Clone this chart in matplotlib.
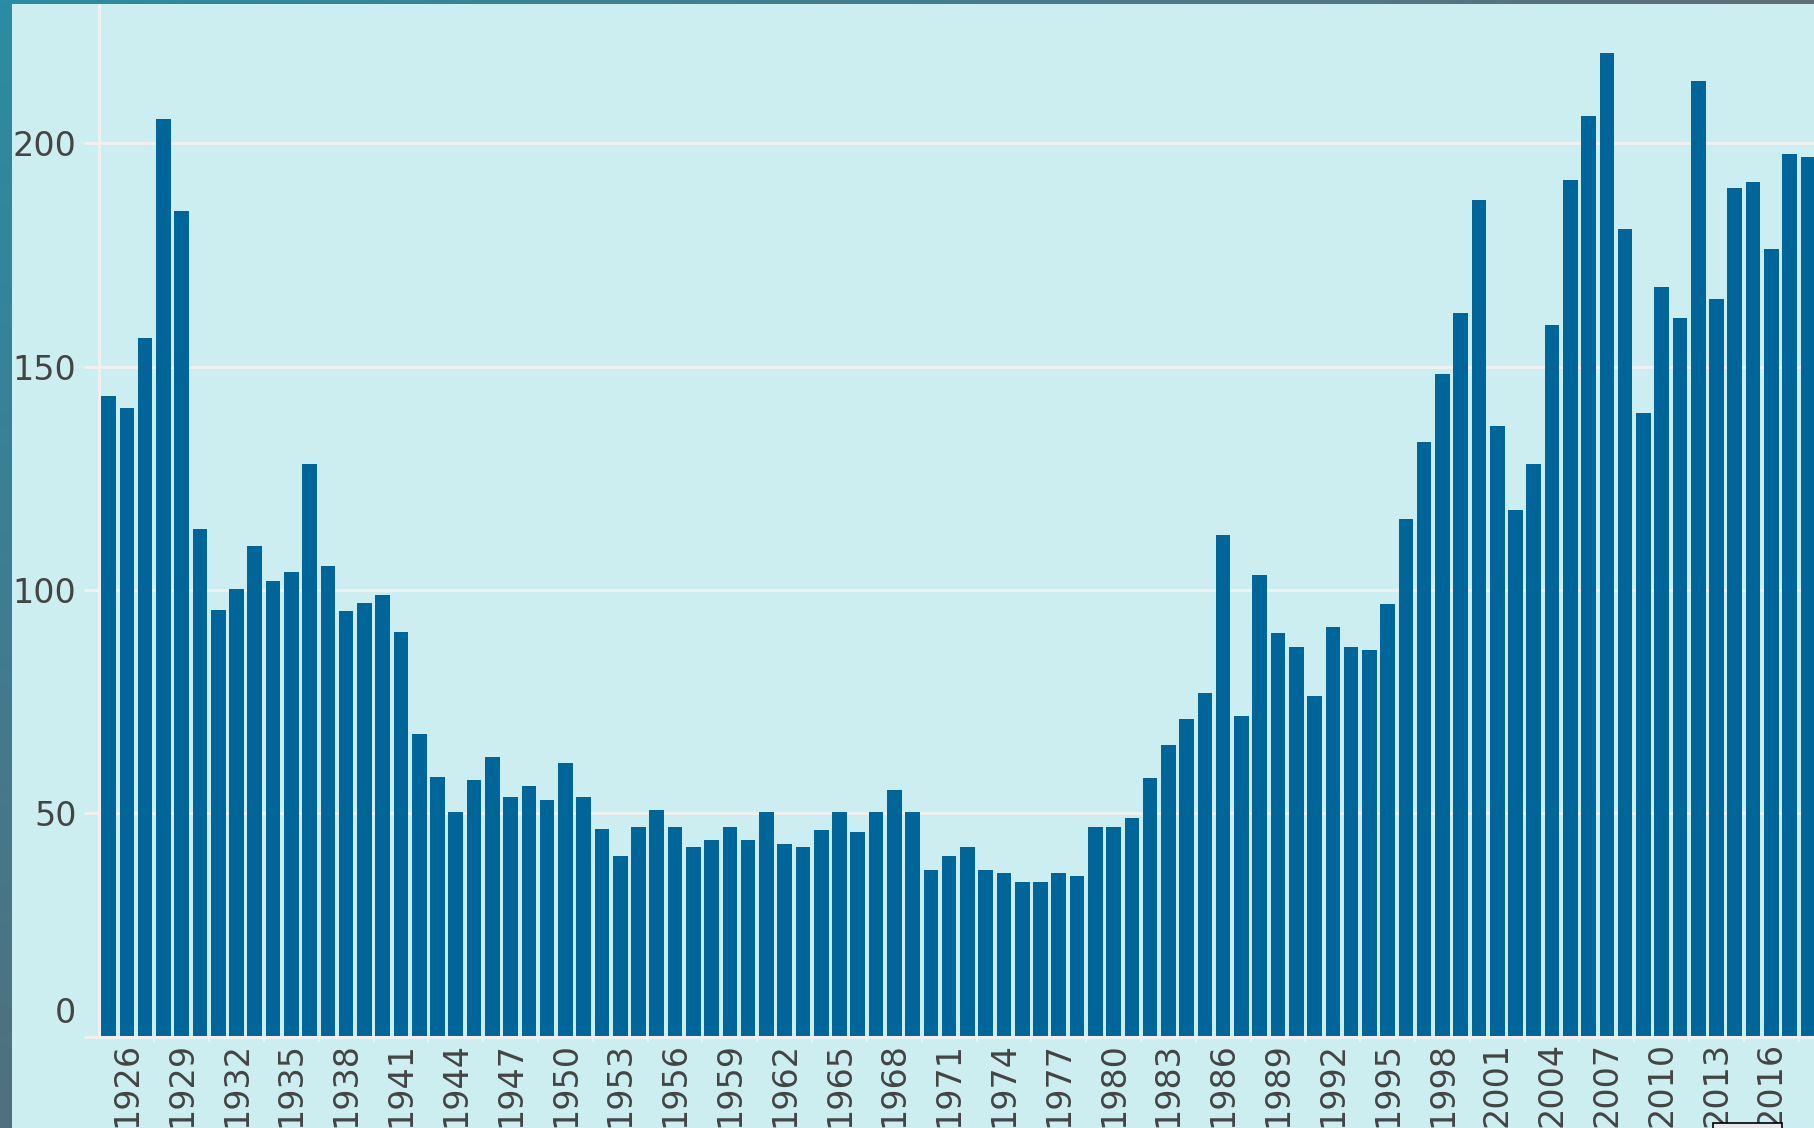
import matplotlib
matplotlib.use("Agg")
import matplotlib.pyplot as plt
import numpy as np
from matplotlib.colors import LinearSegmentedColormap
from matplotlib.patches import Rectangle

years = list(range(1925, 2019))
values = [143.5, 140.8, 156.4, 205.4, 184.9, 113.7, 95.6, 100.3, 109.9, 102.1,
          104.1, 128.1, 105.4, 95.2, 97.0, 98.9, 90.5, 67.7, 58.1, 50.2,
          57.4, 62.5, 53.6, 56.0, 52.9, 61.2, 53.6, 46.4, 40.5, 47.0,
          50.8, 47.0, 42.5, 43.9, 47.0, 43.9, 50.2, 43.2, 42.5, 46.3,
          50.2, 45.7, 50.2, 55.3, 50.2, 37.4, 40.5, 42.5, 37.4, 36.7,
          34.7, 34.7, 36.7, 36.0, 47.0, 47.0, 49.0, 58.0, 65.2, 71.1,
          76.9, 112.4, 71.7, 103.4, 90.4, 87.3, 76.2, 91.8, 87.3, 86.6,
          96.9, 115.8, 133.0, 148.3, 162.0, 187.2, 136.6, 117.8, 128.2, 159.3,
          191.7, 206.2, 220.3, 180.7, 139.6, 167.9, 160.8, 214.0, 165.2, 189.9,
          191.3, 176.3, 197.6, 196.9]
tick_years = list(range(1926, 2017, 3))
y_ticks = [0, 50, 100, 150, 200]

bg = "#CCEEF0"
bar_c = "#00669A"
grid_c = "#F0F0F0"
txt_c = "#444444"

W, H = 1815, 1128
fig = plt.figure(figsize=(W / 100, H / 100), dpi=100, facecolor=bg)

# plot area (runs slightly past the right edge, like the cropped screenshot)
x0, y0, x1, ytop = 99.5, 1036.6, 1817.0, 4.0
ax = fig.add_axes([x0 / W, (H - y0) / H, (x1 - x0) / W, (y0 - ytop) / H])
ax.set_facecolor(bg)
ax.bar(years, values, width=0.8, color=bar_c, zorder=2)
ax.set_xlim(1924.5, 2018.5)
ax.set_ylim(0, (y0 - ytop) / 4.467)

ax.set_yticks(y_ticks)
ax.set_yticklabels([""] + [str(v) for v in y_ticks[1:]])
ax.grid(axis="y", color=grid_c, lw=2.2)
ax.set_axisbelow(True)
for s in ["top", "right"]:
    ax.spines[s].set_visible(False)
for s in ["left", "bottom"]:
    ax.spines[s].set_color(grid_c)
    ax.spines[s].set_linewidth(2.2)
ax.tick_params(axis="y", length=10.8, width=2.2, color=grid_c,
               labelsize=24, labelcolor=txt_c, pad=5.8)
# "0" sits a bit above the baseline in the original
ax.annotate("0", xy=(0, 0), xycoords="axes fraction", xytext=(-16.6, 16.6),
            textcoords="offset points", ha="right", va="center",
            fontsize=24, color=txt_c)

ax.set_xticks(tick_years)
ax.set_xticklabels([str(y) for y in tick_years], rotation=90)
ax.set_xticks([y + 1.5 for y in tick_years], minor=True)
ax.tick_params(axis="x", which="major", length=0, labelsize=24,
               labelcolor=txt_c, pad=4)
ax.tick_params(axis="x", which="minor", length=3.5, width=1.5, color=grid_c)

# window frame bits of the screenshot
left = fig.add_axes([0, 0, 12 / W, 1])
left.imshow(np.linspace(0, 1, 256).reshape(-1, 1), aspect="auto",
            cmap=LinearSegmentedColormap.from_list("l", ["#2B8CA3", "#50707F"]))
left.axis("off")
top = fig.add_axes([0, 1 - 4 / H, 1, 4 / H])
top.imshow(np.linspace(0, 1, 256).reshape(1, -1), aspect="auto",
           cmap=LinearSegmentedColormap.from_list("t", ["#2B8CA3", "#5F6E78"]))
top.axis("off")

fig.patches.append(Rectangle((1713.5 / W, -5 / H), 69 / W, 10 / H,
                             transform=fig.transFigure, facecolor="#E8E8E8",
                             edgecolor="black", lw=1.2))

fig.savefig("out.png", dpi=100, facecolor=bg)
